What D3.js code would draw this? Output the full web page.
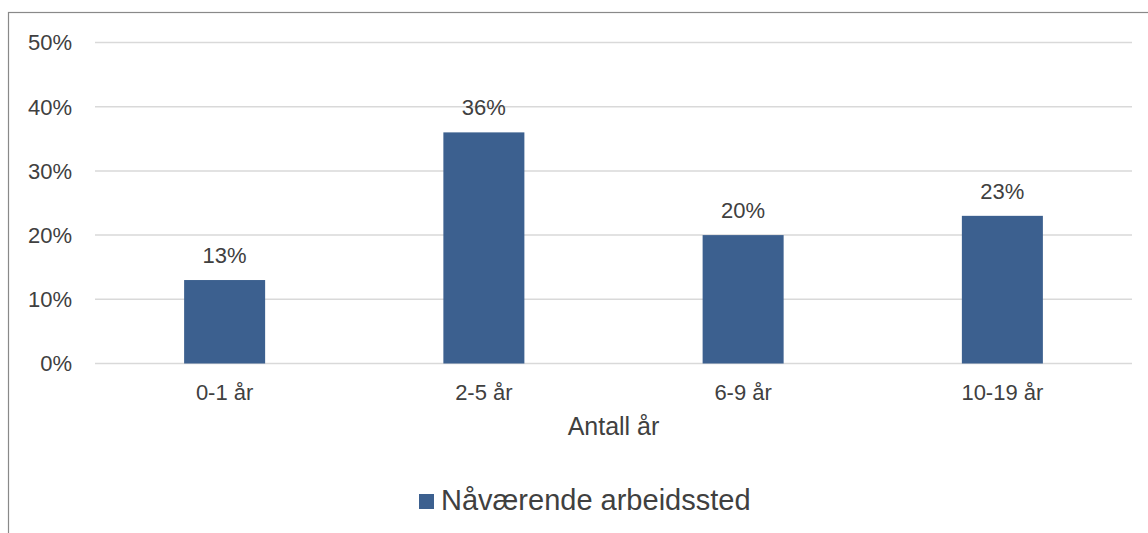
<!DOCTYPE html>
<meta charset="utf-8">
<script src="https://d3js.org/d3.v7.min.js"></script>
<style>
  body { margin: 0; background: #fff; font-family: Arial, "Liberation Sans", sans-serif; }
  svg text { fill: #404040; }
</style>
<div id="chart"></div>
<script>
var categories = ["0-1 år", "2-5 år", "6-9 år", "10-19 år"];
var values = [13, 36, 20, 23];
var yTicks = [0, 10, 20, 30, 40, 50];
var seriesName = "Nåværende arbeidssted";
var xTitle = "Antall år";

var W = 1148, H = 533;
var plotLeft = 95, plotRight = 1132, plotTop = 42.5, plotBottom = 363.5;

var svg = d3.select("#chart").append("svg")
  .attr("width", W)
  .attr("height", H);

// outer frame (right/bottom edges fall outside the picture)
svg.append("rect")
  .attr("x", 8.5).attr("y", 12.5)
  .attr("width", 1150).attr("height", 540)
  .attr("fill", "none")
  .attr("stroke", "#898989")
  .attr("stroke-width", 1.2);

var x = d3.scaleBand()
  .domain(categories)
  .range([plotLeft, plotRight]);

var y = d3.scaleLinear()
  .domain([0, 50])
  .range([plotBottom, plotTop]);

var barW = x.bandwidth() * 0.3125;

// gridlines
svg.append("g").selectAll("line")
  .data(yTicks)
  .enter().append("line")
  .attr("x1", plotLeft).attr("x2", plotRight)
  .attr("y1", function(d) { return y(d); })
  .attr("y2", function(d) { return y(d); })
  .attr("stroke", "#d9d9d9")
  .attr("stroke-width", 1.5);

// y tick labels
svg.append("g").selectAll("text")
  .data(yTicks)
  .enter().append("text")
  .attr("x", 72)
  .attr("y", function(d) { return y(d); })
  .attr("dy", "0.36em")
  .attr("text-anchor", "end")
  .style("font-size", "22px")
  .text(function(d) { return d + "%"; });

// bars
svg.append("g").selectAll("rect")
  .data(values)
  .enter().append("rect")
  .attr("x", function(d, i) { return x(categories[i]) + x.bandwidth() / 2 - barW / 2; })
  .attr("y", function(d) { return y(d); })
  .attr("width", barW)
  .attr("height", function(d) { return y(0) - y(d); })
  .attr("fill", "#3c608f");

// value labels
svg.append("g").selectAll("text")
  .data(values)
  .enter().append("text")
  .attr("x", function(d, i) { return x(categories[i]) + x.bandwidth() / 2; })
  .attr("y", function(d) { return y(d) - 17; })
  .attr("text-anchor", "middle")
  .style("font-size", "22px")
  .text(function(d) { return d + "%"; });

// x labels
svg.append("g").selectAll("text")
  .data(categories)
  .enter().append("text")
  .attr("x", function(d) { return x(d) + x.bandwidth() / 2; })
  .attr("y", 400)
  .attr("text-anchor", "middle")
  .style("font-size", "22px")
  .text(function(d) { return d; });

svg.append("text")
  .attr("x", (plotLeft + plotRight) / 2)
  .attr("y", 435)
  .attr("text-anchor", "middle")
  .style("font-size", "25px")
  .text(xTitle);

// legend
svg.append("rect")
  .attr("x", 419).attr("y", 494)
  .attr("width", 15).attr("height", 15)
  .attr("fill", "#3c608f");

svg.append("text")
  .attr("x", 441)
  .attr("y", 510)
  .style("font-size", "29px")
  .text(seriesName);
</script>
